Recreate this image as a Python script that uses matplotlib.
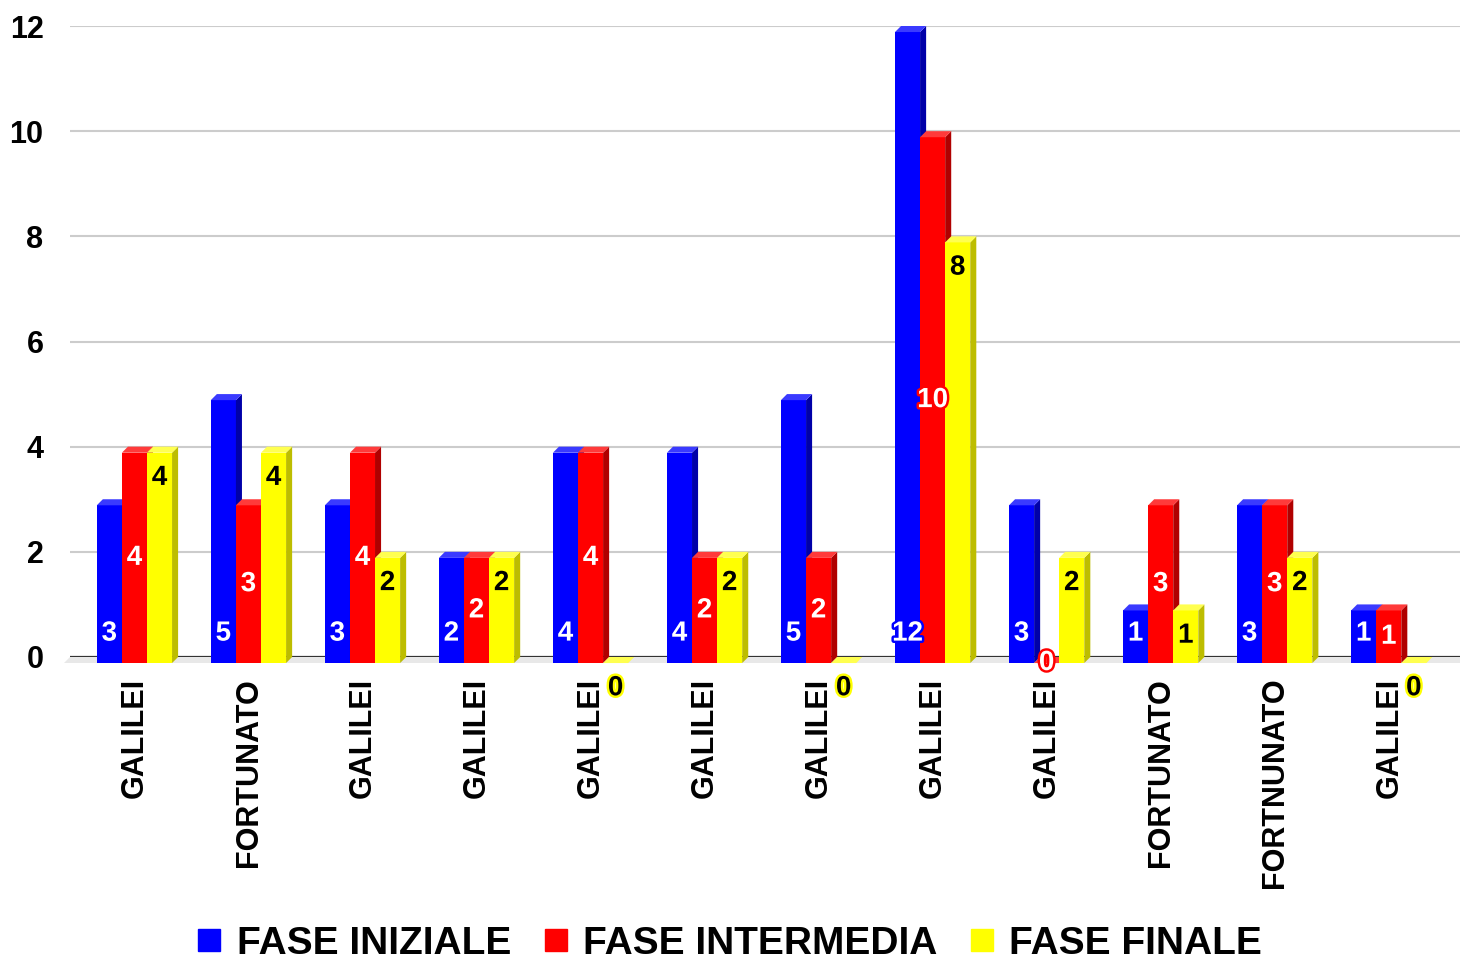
import matplotlib
matplotlib.use("Agg")
import matplotlib.pyplot as plt
from matplotlib.patches import Polygon
from matplotlib.lines import Line2D
import matplotlib.patheffects as pe

plt.rcParams['font.family'] = ['Liberation Sans', 'DejaVu Sans']
plt.rcParams['font.weight'] = 'bold'

categories = ["GALILEI", "FORTUNATO", "GALILEI", "GALILEI", "GALILEI", "GALILEI",
              "GALILEI", "GALILEI", "GALILEI", "FORTUNATO", "FORTNUNATO", "GALILEI"]
fase_iniziale = [3, 5, 3, 2, 4, 4, 5, 12, 3, 1, 3, 1]
fase_intermedia = [4, 3, 4, 2, 4, 2, 2, 10, 0, 3, 3, 1]
fase_finale = [4, 4, 2, 2, 0, 2, 0, 8, 2, 1, 2, 0]
series_names = ["FASE INIZIALE", "FASE INTERMEDIA", "FASE FINALE"]
yticks = [0, 2, 4, 6, 8, 10, 12]

front_colors = ["#0000FF", "#FF0000", "#FFFF00"]
side_colors = ["#0000A8", "#B00000", "#BDBD00"]
top_colors = ["#3A3AFF", "#FF3A3A", "#FFFF50"]
text_colors = ["white", "white", "black"]

W, H = 1460, 960
fig = plt.figure(figsize=(W / 100, H / 100), dpi=100)
ax = fig.add_axes([70 / W, (H - 657) / H, (W - 70) / W, (657 - 26) / H])
ax.set_ylim(0, 12)
ax.set_xlim(-0.57, 11.62)

w = 0.22
dx = 0.053
dy = 0.115
offsets = [-0.335, -0.115, 0.105]
all_series = [fase_iniziale, fase_intermedia, fase_finale]

# grid
for t in yticks[1:]:
    ax.axhline(t, color="#cccccc", lw=1.5, zorder=0)

# floor
x0, x1 = ax.get_xlim()
floor = Polygon([(x0 - dx, -dy), (x1, -dy), (x1, 0), (x0, 0)], closed=True,
                facecolor="#e8e8e8", edgecolor="none", zorder=0.5, clip_on=False)
ax.add_patch(floor)
ax.axhline(0, color="#333333", lw=1.6, zorder=1)

xs = list(range(len(categories)))
for s, vals in enumerate(all_series):
    lefts = [x + offsets[s] for x in xs]
    ax.bar(lefts, [v for v in vals], width=w, bottom=-dy, align='edge',
           color=front_colors[s], edgecolor="none", zorder=3 + s * 0.01, clip_on=False)
    for xl, v in zip(lefts, vals):
        side = Polygon([(xl + w, -dy), (xl + w + dx, 0), (xl + w + dx, v), (xl + w, v - dy)],
                       closed=True, facecolor=side_colors[s], edgecolor="none",
                       zorder=3 + s * 0.01, clip_on=False)
        top = Polygon([(xl, v - dy), (xl + dx, v), (xl + w + dx, v), (xl + w, v - dy)],
                      closed=True, facecolor=top_colors[s], edgecolor="none",
                      zorder=3 + s * 0.01, clip_on=False)
        ax.add_patch(side)
        ax.add_patch(top)
        # labels
        cx = xl + w / 2
        if s == 0:
            ly = -dy + 0.56
        elif s == 1:
            ly = (v - 2 * dy) / 2
        else:
            ly = v - dy - 0.48
        ax.text(cx, ly, str(v), ha='center', va='center', fontsize=20, fontweight='bold',
                color=text_colors[s], zorder=10, clip_on=False,
                path_effects=[pe.withStroke(linewidth=3.5, foreground=front_colors[s])])

ax.set_yticks(yticks)
ax.set_yticklabels([str(t) for t in yticks], fontsize=22, fontweight='bold')
ax.set_xticks(xs)
ax.set_xticklabels(categories, rotation=90, fontsize=22, fontweight='bold', va='top', ha='center')
ax.tick_params(axis='both', length=0)
ax.tick_params(axis='y', pad=19)
ax.tick_params(axis='x', pad=15)
for sp in ax.spines.values():
    sp.set_visible(False)

handles = [Line2D([0], [0], marker='s', linestyle='none', markersize=16,
                  markerfacecolor=c, markeredgecolor=c) for c in front_colors]
fig.legend(handles, series_names, loc='center', bbox_to_anchor=(0.498, 1 - 944 / H),
           ncol=3, frameon=False, prop={'size': 28, 'weight': 'bold'},
           handletextpad=0.25, columnspacing=0.7, handlelength=0.9)

fig.savefig("out.png", dpi=100)
